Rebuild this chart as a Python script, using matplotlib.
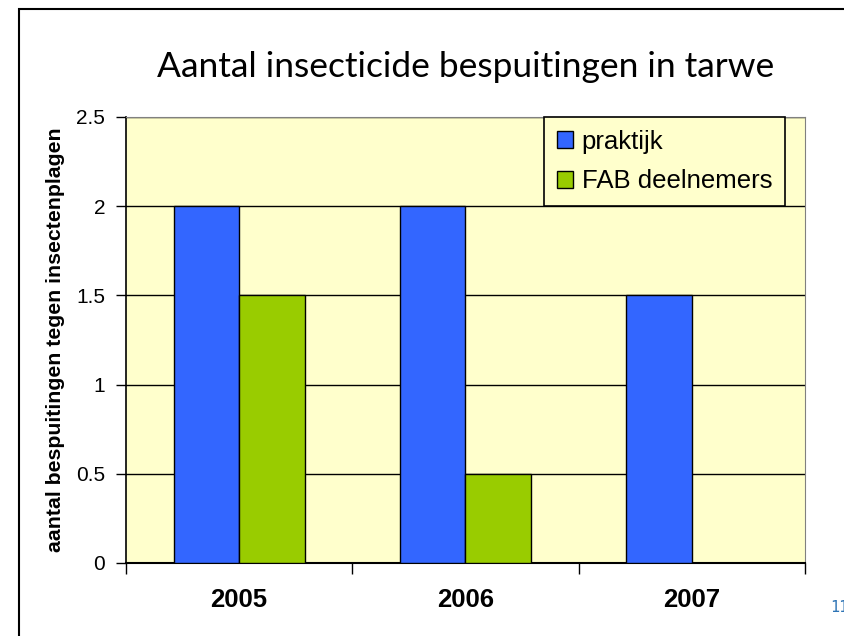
import matplotlib.pyplot as plt
from matplotlib.patches import Rectangle
import numpy as np

years = ["2005", "2006", "2007"]
praktijk = [2.0, 2.0, 1.5]
fab = [1.5, 0.5, 0.0]
yticks = [0, 0.5, 1, 1.5, 2, 2.5]
ytick_labels = ["0", "0.5", "1", "1.5", "2", "2.5"]

W, H = 844, 636
fig = plt.figure(figsize=(W / 100, H / 100), dpi=100)

# outer frame (runs off the right and bottom edge)
fig.patches.append(Rectangle((19 / W, -0.05), 1.0, 1 - 9 / H + 0.05,
                             transform=fig.transFigure, fill=False,
                             edgecolor="black", linewidth=1.5))

ax = fig.add_axes([126 / W, 1 - 563 / H, (805 - 126) / W, (563 - 117) / H])
ax.set_facecolor("#FFFFCC")

x = np.arange(len(years))
bw = 0.29
ax.bar(x - bw / 2, praktijk, bw, color="#3366FF", edgecolor="black",
       linewidth=1, label="praktijk", zorder=3)
ax.bar(x + bw / 2, fab, bw, color="#99CC00", edgecolor="black",
       linewidth=1, label="FAB deelnemers", zorder=3)

ax.set_xlim(-0.5, 2.5)
ax.set_ylim(0, 2.5)
ax.set_yticks(yticks)
ax.set_yticklabels(ytick_labels, fontsize=15, family="Liberation Sans")
ax.yaxis.grid(True, color="black", linewidth=1, zorder=1)

ax.set_xticks([-0.5, 0.5, 1.5, 2.5])
ax.set_xticklabels([])
ax.set_xticks(x, minor=True)
ax.set_xticklabels(years, minor=True, fontsize=18.5, fontweight="bold",
                   family="Liberation Sans")
ax.tick_params(axis="x", which="minor", length=0, pad=18)
ax.tick_params(axis="x", which="major", direction="out", length=8, width=1)
ax.tick_params(axis="y", direction="out", length=7, width=1, pad=8)

for s in ["top", "right"]:
    ax.spines[s].set_color("#808080")
ax.spines["left"].set_linewidth(1.2)
ax.spines["bottom"].set_linewidth(1.5)

ax.set_ylabel("aantal bespuitingen tegen insectenplagen", fontsize=15.3,
              fontweight="bold", family="Liberation Sans", labelpad=8)

leg = ax.legend(loc="upper right", bbox_to_anchor=(785 / W, 1 - 117 / H),
                bbox_transform=fig.transFigure, frameon=True, fancybox=False,
                prop={"family": "Liberation Sans", "size": 18.5},
                handlelength=0.62, handleheight=0.62, handletextpad=0.35,
                labelspacing=0.6, borderpad=0.5, borderaxespad=0)
leg.get_frame().set_edgecolor("black")
leg.get_frame().set_facecolor("#FFFFCC")
leg.get_frame().set_linewidth(1.2)
leg.get_frame().set_alpha(1)

fig.text(466 / W, 1 - 67 / H, "Aantal insecticide bespuitingen in tarwe",
         ha="center", va="center", fontsize=25.5, family="Lato")
# page number, cut off at the right edge as in the reference
fig.text(830 / W, 1 - 607 / H, "11", ha="left", va="center", fontsize=11,
         color="#2E74B5", family="DejaVu Sans Mono")

fig.savefig("out.png", dpi=100)
